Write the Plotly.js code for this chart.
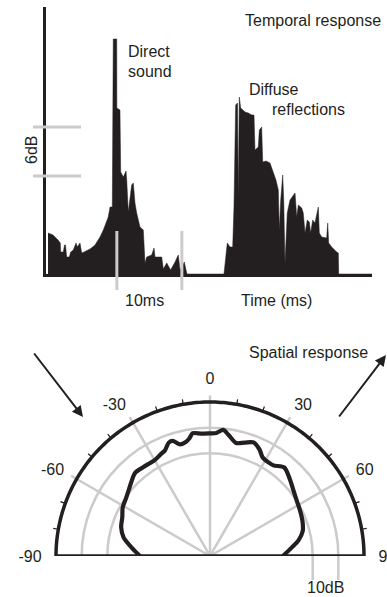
<!DOCTYPE html>
<html><head><meta charset="utf-8">
<script src="https://cdn.plot.ly/plotly-3.0.1.min.js"></script>
<style>html,body{margin:0;padding:0;background:#fff;overflow:hidden}#chart{width:387px;height:597px}</style>
</head><body><div id="chart"></div>
<script>
// ---------- Temporal response (time in ms, level in dB above floor) ----------
const timeMs = [0.31,1.08,1.85,2.20,2.26,2.66,2.85,3.00,3.18,3.58,
  3.80,4.20,4.62,4.82,5.23,5.49,5.85,6.77,7.54,8.31,
  8.82,9.34,9.58,9.85,10.20,10.35,10.88,10.90,11.38,11.49,
  11.89,12.31,12.42,12.66,12.92,13.18,13.43,13.69,13.95,14.20,
  14.46,14.97,15.23,15.49,16.26,16.62,16.77,17.80,18.05,18.57,
  19.18,19.85,20.35,20.62,21.28,21.54,21.70,27.38,27.89,28.31,
  28.72,28.92,29.18,29.46,29.58,29.74,29.95,30.62,31.12,31.65,
  32.00,32.15,32.66,32.82,33.18,33.34,33.85,34.46,34.72,35.38,
  35.74,35.89,36.11,36.42,36.57,36.77,37.12,37.54,38.31,38.57,
  38.82,39.34,39.58,39.85,40.20,40.51,40.72,41.03,41.38,41.89,
  42.05,42.42,43.18,43.34,43.49,43.95,44.72,44.97,45.03,50.15];
const levelDb = [5.02,4.78,4.16,3.80,2.69,2.69,3.55,3.55,2.08,2.08,
  2.69,2.94,3.80,3.31,3.80,2.57,2.69,3.06,3.55,4.53,
  5.39,6.37,6.98,8.20,8.20,28.77,28.77,20.33,20.08,12.49,
  11.88,12.61,11.51,7.59,9.06,10.90,11.14,8.69,7.47,6.61,
  5.76,5.39,1.35,2.08,2.33,3.18,2.08,2.08,0.61,1.35,
  0.49,1.47,2.33,0.49,1.47,0.49,0,0,3.80,3.31,
  3.31,8.20,20.69,20.94,9.43,21.67,20.33,19.84,19.71,19.47,
  19.47,15.18,15.55,17.63,18.00,13.71,13.84,13.59,12.98,11.51,
  10.29,5.39,9.06,12.12,9.06,1.35,7.47,9.06,9.92,6.98,
  8.45,8.08,7.47,5.02,6.61,6.37,5.02,6.61,6.24,8.20,
  5.02,4.53,4.41,6.24,3.80,3.31,2.69,2.57,0,0];
const timeMarkMs = [10.9, 20.9];   // the "10ms" scale marks
const levelMarkDb = [12, 18];      // the "6dB" scale marks

// ---------- Spatial response (angle in degrees, level in dB re. outer ring) ----------
const angleDeg = [-90,-84,-78,-72,-66,-61,-56,-52,-47,-42,-37,-33,-30,-26,-23,-20,-18,-15,-12,-10,-8,-4,0,3,6,9,13,17,21,25,28,32,35,40,46,52,58,64,70,75,80,84,90];
const patternDb = [-32.7,-29.4,-25.6,-23.6,-22.6,-21.1,-20.4,-19.5,-18.0,-16.4,-16.7,-16.9,-16.9,-16.0,-15.2,-13.0,-12.8,-15.0,-14.6,-13.5,-11.7,-12.2,-12.2,-12.0,-10.6,-12.5,-14.8,-13.8,-12.6,-14.3,-16.4,-17.0,-16.9,-15.0,-16.8,-18.7,-20.0,-20.8,-21.6,-22.6,-25.0,-27.9,-31.6];
const spokeAngles = [-60,-30,0,30,60];
const ringDb = [-20,-10];
const angleLabels = [-90,-60,-30,0,30,60,90];
const minorTickAngles = [-80,-70,-50,-40,-20,-10,10,20,40,50,70,80];

// ---------- layout geometry ----------
const W=387, H=597;
const INK='#231f20', GRAY='#cbcbcb';
const FONT={family:'Liberation Sans, Arial, sans-serif', size:16, color:INK};
const px2x=p=>p/W, py2y=p=>1-p/H;
const tx0=46, tx1=372, ty0=7, ty1=274, pxPerMs=6.5, pxPerDbT=49/6;
const cx=210, cy=556, pxPerDb=154/60, rMin=-60, rMax=3;
const Rpx=(rMax-rMin)*pxPerDb;

const traces=[];
traces.push({type:'scatter', x:timeMs, y:levelDb, mode:'lines', fill:'tozeroy',
  fillcolor:INK, line:{color:INK,width:0.5}, hoverinfo:'skip', xaxis:'x', yaxis:'y'});

// spokes
let sr=[], st=[];
spokeAngles.forEach(a=>{sr.push(rMin,2.5,null); st.push(a,a,null);});
traces.push({type:'scatterpolar', subplot:'polar', r:sr, theta:st, mode:'lines',
  line:{color:GRAY,width:2.5}, hoverinfo:'skip'});
// pattern
traces.push({type:'scatterpolar', subplot:'polar', r:patternDb, theta:angleDeg, mode:'lines',
  line:{color:INK,width:4.2,shape:'spline',smoothing:0.8}, hoverinfo:'skip'});
// baseline
traces.push({type:'scatterpolar', subplot:'polar', r:[0,rMin,0], theta:[-90,0,90], mode:'lines',
  line:{color:INK,width:3.5}, hoverinfo:'skip'});
// outer ring
let orr=[], ort=[];
for(let a=-90;a<=90;a+=1){orr.push(0); ort.push(a);}
traces.push({type:'scatterpolar', subplot:'polar', r:orr, theta:ort, mode:'lines',
  line:{color:INK,width:3.5}, hoverinfo:'skip'});
// minor ticks
let tr=[], tt=[];
minorTickAngles.forEach(a=>{tr.push(0,2,null); tt.push(a,a,null);});
traces.push({type:'scatterpolar', subplot:'polar', r:tr, theta:tt, mode:'lines',
  line:{color:INK,width:1.2}, hoverinfo:'skip'});

const shapes=[];
levelMarkDb.forEach(v=>shapes.push({type:'line', xref:'paper', yref:'y',
  x0:px2x(33), x1:px2x(81), y0:v, y1:v, line:{color:GRAY,width:3}}));
timeMarkMs.forEach(t=>shapes.push({type:'line', xref:'x', yref:'paper',
  x0:t, x1:t, y0:py2y(231), y1:py2y(290), line:{color:GRAY,width:3}}));
ringDb.forEach(r=>{const xp=cx+(r-rMin)*pxPerDb;
  shapes.push({type:'line', xref:'paper', yref:'paper', x0:px2x(xp), x1:px2x(xp),
    y0:py2y(cy), y1:py2y(580), line:{color:GRAY,width:2.5}});});

function ann(text,x,y,xa,extra){return Object.assign({text:text, x:px2x(x), y:py2y(y),
  xref:'paper', yref:'paper', xanchor:xa||'center', yanchor:'middle', showarrow:false, font:FONT, align:'left'}, extra||{});}
const annotations=[
  ann('Temporal response',383,20,'right'),
  ann('Direct',126,51,'left'),
  ann('sound',126,71,'left'),
  ann('Diffuse',247,90,'left'),
  ann('reflections',270,110,'left'),
  ann('6dB',31,150,'center',{textangle:-90}),
  ann('10ms',144,300,'center'),
  ann('Time (ms)',276,300,'center'),
  ann('Spatial response',370,352,'right'),
  ann('10dB',325,587,'center'),
  {text:'', x:px2x(83), y:py2y(417), xref:'paper', yref:'paper', showarrow:true,
   ax:33-83, ay:352-417, arrowhead:2, arrowsize:1.1, arrowwidth:2, arrowcolor:INK},
  {text:'', x:px2x(386), y:py2y(355), xref:'paper', yref:'paper', showarrow:true,
   ax:338-386, ay:418-355, arrowhead:2, arrowsize:1.1, arrowwidth:2, arrowcolor:INK}
];

const layout={
  width:W, height:H, margin:{l:0,r:0,t:0,b:0}, paper_bgcolor:'#fff', plot_bgcolor:'rgba(0,0,0,0)',
  showlegend:false, font:FONT,
  xaxis:{domain:[px2x(tx0),px2x(tx1)], range:[0,(tx1-tx0)/pxPerMs], showline:true, linecolor:INK, linewidth:3,
    showgrid:false, zeroline:false, showticklabels:false, ticks:'', fixedrange:true},
  yaxis:{domain:[py2y(ty1),py2y(ty0)], range:[0,(ty1-ty0)/pxPerDbT], showline:true, linecolor:INK, linewidth:3,
    showgrid:false, zeroline:false, showticklabels:false, ticks:'', fixedrange:true},
  polar:{
    domain:{x:[px2x(cx-Rpx),px2x(cx+Rpx)], y:[py2y(cy),py2y(cy-Rpx)]},
    sector:[0,180], bgcolor:'rgba(0,0,0,0)',
    radialaxis:{range:[rMin,rMax], tickvals:ringDb, showticklabels:false, ticks:'', showline:false,
      showgrid:true, gridcolor:GRAY, gridwidth:2.5},
    angularaxis:{rotation:90, direction:'clockwise', thetaunit:'degrees', tickvals:angleLabels,
      ticktext:angleLabels.map(String), ticks:'outside', ticklen:3, tickcolor:'rgba(0,0,0,0)',
      showgrid:false, showline:false, tickfont:FONT}
  },
  shapes:shapes, annotations:annotations
};
Plotly.newPlot('chart', traces, layout, {staticPlot:true, displayModeBar:false});
</script></body></html>
